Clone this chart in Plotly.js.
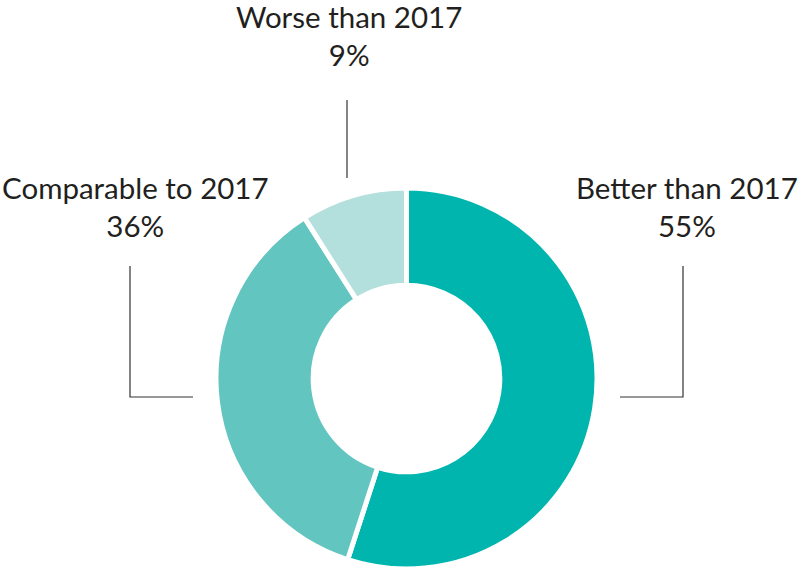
<!DOCTYPE html>
<html>
<head>
<meta charset="utf-8">
<script src="https://cdn.plot.ly/plotly-3.0.1.min.js"></script>
<style>html,body{margin:0;padding:0;background:#fff;}#chart{width:798px;height:569px;}</style>
</head>
<body>
<div id="chart"></div>
<script>
const categories = ["Better than 2017", "Comparable to 2017", "Worse than 2017"];
const values = [55, 36, 9];
const colors = ["#00B5AD", "#63C5C0", "#B3DFDD"];

const W = 798, H = 569;
const px = x => x / W;
const py = y => 1 - y / H;

// label anchor positions (pixels) and leader line paths
const labelPos = [[687, 207], [135, 207], [349, 35]];
const leaders = [
  [[620, 397], [683, 397], [683, 266]],
  [[193, 397], [130, 397], [130, 266]],
  [[347, 178], [347, 100]]
];

const annotations = categories.map((c, i) => ({
  text: c + "<br>" + values[i] + "%",
  x: px(labelPos[i][0]), y: py(labelPos[i][1]),
  xref: "paper", yref: "paper", showarrow: false,
  xanchor: "center", yanchor: "middle", align: "center",
  font: {family: "Lato, 'Open Sans', sans-serif", size: 29.5, weight: 400, color: "#231F20"}
}));

const shapes = leaders.map(pts => ({
  type: "path", xref: "paper", yref: "paper",
  path: pts.map((p, j) => (j ? "L" : "M") + px(p[0]) + "," + py(p[1])).join(" "),
  line: {color: "#333333", width: 1.2}
}));

const data = [{
  type: "pie",
  labels: categories,
  values: values,
  hole: 0.49,
  sort: false,
  direction: "clockwise",
  rotation: 0,
  textinfo: "none",
  hoverinfo: "label+percent",
  marker: {colors: colors, line: {color: "#ffffff", width: 5}},
  domain: {x: [px(215), px(598)], y: [py(571), py(188)]},
  showlegend: false
}];

const layout = {
  width: W, height: H,
  margin: {l: 0, r: 0, t: 0, b: 0},
  paper_bgcolor: "#ffffff",
  showlegend: false,
  annotations: annotations,
  shapes: shapes
};

Plotly.newPlot("chart", data, layout, {displayModeBar: false, staticPlot: true});
</script>
</body>
</html>
